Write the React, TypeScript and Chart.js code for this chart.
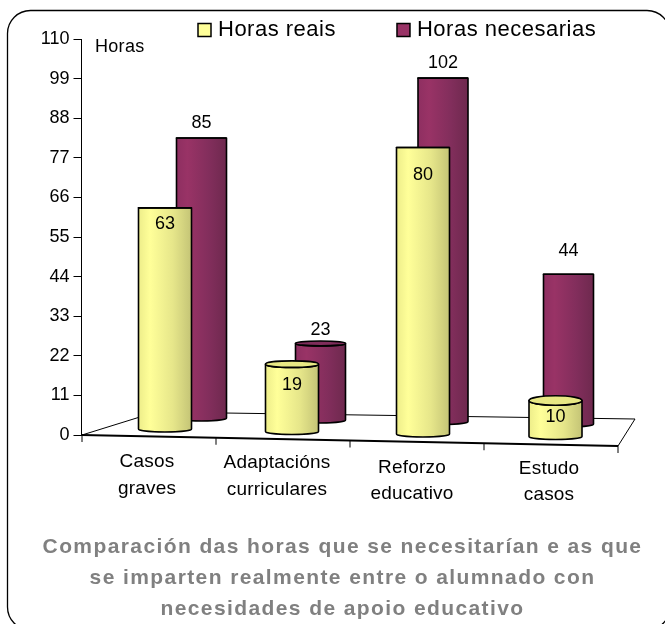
import React, { useEffect, useRef } from "react";
import { Chart, registerables } from "chart.js";

Chart.register(...registerables);

const categories: string[][] = [
  ["Casos", "graves"],
  ["Adaptacións", "curriculares"],
  ["Reforzo", "educativo"],
  ["Estudo", "casos"],
];
const horasReais = [63, 19, 80, 10];
const horasNecesarias = [85, 23, 102, 44];
const yTickStep = 11;
const yMax = 110;
const titleLines = [
  "Comparación das horas que se necesitarían e as que",
  "se imparten realmente entre o alumnado con",
  "necesidades de apoio educativo",
];

const FONT = "'Liberation Sans', Arial, sans-serif";

// Perspective of the 3D floor: how each series is displaced from its scale position
const geometry = [
  { // front row
    shiftX: [18.5, 15.5, 16.5, 19],
    base: [429, 431.5, 434, 436.5],
    k: [0.975, 0.985, 0.995, 1.0],
    width: 53,
    stops: ["#EDED8A", "#FFFF99", "#E6E68A", "#C4C476"],
    cap: "#E8E884",
    labelDy: [16, 21, 28, 17],
  },
  { // back row
    shiftX: [55, 44, 36.5, 32],
    base: [418, 420, 421.5, 424],
    k: [0.915, 0.925, 0.935, 0.945],
    width: 50,
    stops: ["#8E2F61", "#993366", "#822E5C", "#6E294E"],
    cap: "#7F2D5B",
    labelDy: [-15, -13, -15, -23],
  },
];

const catLabelPos = [
  { dx: 0.5, y: [462, 489] },
  { dx: 0.5, y: [463, 490] },
  { dx: 5.5, y: [468, 494] },
  { dx: 12.5, y: [469, 495] },
];

const floorFront = [[82, 435], [618, 446]];
const floorBack = [[156, 412], [635, 419]];
const floorTickCount = 4;

function project(chart: any, series: number, i: number, el: any) {
  const g = geometry[series];
  const zero = chart.scales.y.getPixelForValue(0);
  const cx = el.x + g.shiftX[i];
  const base = g.base[i];
  const top = base - (zero - el.y) * g.k[i];
  return { cx, base, top };
}

function withSpacing(box: any, spacing: string) {
  if (box.__spaced) return;
  box.__spaced = true;
  const draw = box.draw;
  box.draw = function (...a: any[]) {
    const c = box.ctx;
    c.letterSpacing = spacing;
    draw.apply(box, a);
    c.letterSpacing = "0px";
  };
}

const scenePlugin = {
  id: "scene",
  afterLayout(chart: any) {
    chart.legend.left = 137;
    chart.legend.right = 900;
    chart.legend.top = -46;
    chart.titleBlock.left = 10;
    chart.titleBlock.right = 675;
    withSpacing(chart.titleBlock, "1.4px");
    withSpacing(chart.legend, "0.5px");
  },
  beforeDraw(chart: any) {
    const c = chart.ctx;
    c.save();
    c.fillStyle = "#fff";
    c.fillRect(0, 0, chart.width, chart.height);
    c.beginPath();
    c.roundRect(7.5, 10.5, 662.5, 619.5, 23);
    c.strokeStyle = "#000";
    c.lineWidth = 1.3;
    c.stroke();
    c.restore();
  },
  beforeDatasetsDraw(chart: any) {
    const c = chart.ctx;
    c.save();
    c.strokeStyle = "#000";
    c.lineWidth = 1;
    c.beginPath();
    c.moveTo(floorFront[0][0], floorFront[0][1]);
    c.lineTo(floorBack[0][0], floorBack[0][1]);
    c.lineTo(floorBack[1][0], floorBack[1][1]);
    c.lineTo(floorFront[1][0], floorFront[1][1]);
    c.stroke();
    c.lineWidth = 1.8;
    c.beginPath();
    c.moveTo(floorFront[0][0], floorFront[0][1]);
    c.lineTo(floorFront[1][0], floorFront[1][1]);
    c.stroke();
    c.lineWidth = 1;
    c.beginPath();
    for (let i = 0; i <= floorTickCount; i++) {
      const t = i / floorTickCount;
      const x = floorFront[0][0] + (floorFront[1][0] - floorFront[0][0]) * t;
      const y = floorFront[0][1] + (floorFront[1][1] - floorFront[0][1]) * t;
      c.moveTo(x, y);
      c.lineTo(x, y + 7);
    }
    c.stroke();
    // category labels
    c.fillStyle = "#000";
    c.font = `19px ${FONT}`;
    c.textAlign = "center";
    c.textBaseline = "middle";
    c.letterSpacing = "0.2px";
    const xs = chart.getDatasetMeta(0).data;
    categories.forEach((lines, i) => {
      lines.forEach((ln, j) => c.fillText(ln, xs[i].x + catLabelPos[i].dx, catLabelPos[i].y[j]));
    });
    c.letterSpacing = "0px";
    c.restore();
  },
  beforeDatasetDraw(chart: any, args: any) {
    const series = args.index;
    const g = geometry[series];
    const c = chart.ctx;
    c.save();
    args.meta.data.forEach((el: any, i: number) => {
      const { cx, base, top } = project(chart, series, i, el);
      const r = g.width / 2;
      const ryT = Math.max(0, Math.min(5, (top - 285) / 24));
      const ryB = 3;
      const grad = c.createLinearGradient(cx - r, 0, cx + r, 0);
      grad.addColorStop(0, g.stops[0]);
      grad.addColorStop(0.22, g.stops[1]);
      grad.addColorStop(0.65, g.stops[2]);
      grad.addColorStop(1, g.stops[3]);
      c.beginPath();
      c.moveTo(cx - r, top);
      c.lineTo(cx - r, base);
      c.ellipse(cx, base, r, ryB, 0, Math.PI, 0, true);
      c.lineTo(cx + r, top);
      c.ellipse(cx, top, r, ryT, 0, 0, Math.PI, false);
      c.closePath();
      c.fillStyle = grad;
      c.fill();
      c.strokeStyle = "#000";
      c.lineWidth = 1.6;
      c.lineJoin = "round";
      c.stroke();
      c.beginPath();
      c.ellipse(cx, top, r, ryT, 0, 0, Math.PI * 2);
      c.fillStyle = g.cap;
      c.fill();
      c.stroke();
    });
    c.restore();
    return false;
  },
  afterDatasetsDraw(chart: any) {
    const c = chart.ctx;
    c.save();
    c.fillStyle = "#000";
    c.font = `18px ${FONT}`;
    c.textAlign = "center";
    c.textBaseline = "middle";
    chart.data.datasets.forEach((ds: any, series: number) => {
      chart.getDatasetMeta(series).data.forEach((el: any, i: number) => {
        const { cx, top } = project(chart, series, i, el);
        c.fillText(String(ds.data[i]), cx, top + geometry[series].labelDy[i]);
      });
    });
    c.textAlign = "left";
    c.letterSpacing = "0.3px";
    c.fillText("Horas", 95, 47);
    c.letterSpacing = "0px";
    c.restore();
  },
};

export default function App() {
  const ref = useRef<HTMLCanvasElement>(null);
  useEffect(() => {
    const chart = new Chart(ref.current as HTMLCanvasElement, {
      type: "bar",
      data: {
        labels: categories,
        datasets: [
          { label: "Horas reais", data: horasReais, backgroundColor: "#FFFF99", borderColor: "#000", borderWidth: 1.5 },
          { label: "Horas necesarias", data: horasNecesarias, backgroundColor: "#993366", borderColor: "#000", borderWidth: 1.5 },
        ],
      },
      options: {
        animation: false,
        responsive: false,
        layout: { padding: { top: -58, right: 63.5, bottom: -0.5, left: 0 } },
        datasets: { bar: { grouped: false } },
        plugins: {
          tooltip: { enabled: false },
          legend: {
            position: "top",
            align: "start",
            labels: {
              color: "#000",
              font: { family: FONT, size: 22 },
              usePointStyle: true,
              pointStyle: "rect",
              boxWidth: 5,
              boxHeight: 13,
              padding: 65,
            },
          },
          title: {
            display: true,
            position: "bottom",
            text: titleLines,
            color: "#808080",
            font: { family: FONT, size: 21, weight: "bold", lineHeight: 31 / 21 },
            padding: { top: 96.5, bottom: 0 },
          },
        },
        scales: {
          x: { display: false },
          y: {
            min: 0,
            max: yMax,
            afterFit: (s: any) => { s.width = 81.5; },
            border: { display: true, color: "#000", width: 1 },
            grid: { drawOnChartArea: false, drawTicks: true, tickLength: 8, color: "#000" },
            ticks: { stepSize: yTickStep, color: "#000", padding: 4, font: { family: FONT, size: 18 } },
          },
        },
      },
      plugins: [scenePlugin],
    } as any);
    return () => chart.destroy();
  }, []);
  return (
    <div style={{ position: "absolute", left: 0, top: 0, width: 665, height: 624, overflow: "hidden", background: "#fff" }}>
      <canvas ref={ref} width={665} height={624} style={{ display: "block" }} />
    </div>
  );
}
